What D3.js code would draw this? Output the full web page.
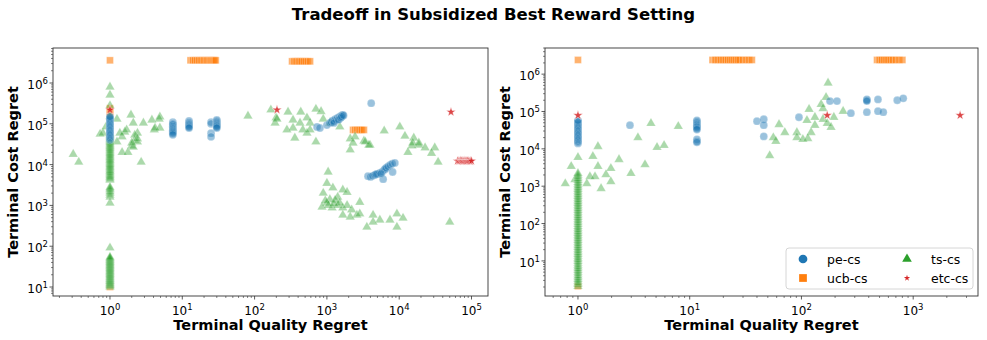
<!DOCTYPE html>
<html>
<head>
<meta charset="utf-8">
<script src="https://cdn.jsdelivr.net/npm/d3@7"></script>
<style>
body { margin: 0; background: #fff; }
text { font-family: "DejaVu Sans", sans-serif; fill: #000; }
</style>
</head>
<body>
<svg id="svg" width="987" height="340"></svg>
<script>
// ---- data ----
// left panel
const peLeftCol = [4.0e4,4.3e4,4.6e4,5.0e4,5.4e4,5.8e4,6.2e4,6.7e4,7.2e4,7.8e4,8.4e4,9e4,9.7e4,1.05e5,1.13e5,1.22e5,1.31e5,1.41e5,1.5e5];
const peLeft = [
  [7.4,1.1e5],[7.4,1.0e5],[7.4,9.5e4],[7.4,8.7e4],[7.4,8e4],[7.4,7.5e4],[7.4,7e4],[7.4,6.6e4],[7.4,6.2e4],[7.4,5.8e4],[7.4,5.4e4],
  [12.4,1.17e5],[12.4,1.08e5],[12.4,1.0e5],[12.4,9.4e4],[12.4,8.8e4],[12.4,8.3e4],[12.4,7.9e4],
  [25,1.1e5],[25,1.0e5],[25,5.9e4],[25,4.8e4],
  [30,1.24e5],[30,1.17e5],[30,1.1e5],[30,1.03e5],[30,9.7e4],[30,9.2e4],[30,8.8e4],[30,8.3e4],[30,7.9e4],
  [730,8.4e4],[800,7.9e4],[1000,9.3e4],[1100,1.05e5],[1150,1.1e5],[1200,1.2e5],[1250,1.15e5],[1300,1.3e5],[1350,1.25e5],
  [1400,1.4e5],[1450,1.3e5],[1500,1.5e5],[1550,1.45e5],[1600,1.6e5],[1660,1.65e5],[1250,1.05e5],[1450,1.25e5],[1550,1.4e5],
  [1600,1.5e5],[1700,1.6e5],
  [4100,3.2e5],
  [3700,5.2e3],[4000,5.0e3],[4300,5.3e3],[4600,5.6e3],[5000,5.9e3],[5400,6.3e3],[5800,6.6e3],[6200,7.4e3],[6400,7.8e3],
  [6600,8.3e3],[7000,9e3],[7500,9.8e3],[8000,1.05e4],[8700,1.1e4],[6000,4.4e3],[8100,6.6e3],[4800,5.8e3],[5600,6.0e3]
];
const ucbLeft = [
  [1,3.6e6],[1,2.4e5],[1,2.2e5],[1,2.0e5],[1,1.7e5],[1,10],
  [13,3.6e6],[14,3.6e6],[15,3.6e6],[16,3.6e6],[17,3.6e6],[18,3.6e6],[19,3.6e6],[20,3.6e6],[21,3.6e6],
  [22,3.6e6],[23,3.6e6],[24,3.6e6],[25,3.6e6],[26,3.6e6],[27,3.6e6],[28,3.6e6],[29,3.6e6],
  [330,3.4e6],[350,3.4e6],[370,3.4e6],[390,3.4e6],[410,3.4e6],[430,3.4e6],[450,3.4e6],[480,3.4e6],[510,3.4e6],[545,3.4e6],[585,3.4e6],
  [2300,7.1e4],[2450,7.1e4],[2600,7.1e4],[2750,7.1e4],[2900,7.1e4],[3050,7.1e4],[3250,7.1e4]
];
const tsLeftCol = [8.0e5,5.1e5,2.8e5,1.5e5,
  4200,4500,4800,5100,5500,5900,6300,6800,7200,7800,8300,8900,9500,10200,11000,11700,12500,13400,14400,15400,16500,
  17700,19000,20300,21800,23400,25000,26800,28700,30800,33000,35400,38000,40700,43600,46700,50000,53600,57400,
  1150,1600,1800,2000,2200,2400,2600,2800,91,
  10,10.5,11,11.5,12,12.6,13.2,13.8,14.5,15.2,16,16.8,17.6,18.5,19.4,20.4,21.4,22.5,23.6,24.8,26,27.3,28.7,30.1,
  31.6,33.2,34.8,36.6,38.4,40.3,42.3,44.4,46.6,49,51.4,54];
const tsLeft = [
  [0.31,1.8e4],[0.37,1.15e4],[0.73,5.6e4],[0.80,5.9e4],[0.88,8.4e4],[1.25,1.3e5],[1.95,1.65e5],[2.1,1.05e5],
  [2.9,1.05e5],[3.8,1.24e5],[4.9,1.48e5],[4.8,1.3e5],[4.1,7.1e4],[4.9,7.9e4],[2.4,5.9e4],[2.2,4.0e4],[2.0,2.9e4],
  [1.47,4.8e4],[1.6,6.3e4],[1.47,2.0e4],[1.77,2.0e4],[2.1,2.7e4],[2.4,3.6e4],[2.7,1.15e4],[1.37,5.9e4],[1.7,7.1e4],
  [2.2,5.3e4],[2.4,4.3e4],[2.0,3.4e4],[4.2,7.9e4],[1.25,3.6e4],
  [81,1.56e5],[168,2.2e5],[198,1.4e5],[192,1.05e5],[290,1.95e5],[340,1.24e5],[435,1.95e5],[425,1.05e5],[530,1.4e5],
  [585,1.05e5],[705,2.3e5],[830,2.0e5],[890,1.3e5],[465,7.1e4],[280,7.1e4],[360,4.5e4],[530,5.9e4],[705,3.6e4],
  [1100,1.05e5],[1510,8.4e4],[2100,4.3e4],[2450,4.8e4],[3250,3.8e4],[3950,3.0e4],[6200,6.7e4],[10200,8.4e4],
  [12000,5.0e4],[15900,4.5e4],[18700,3.0e4],[22800,2.6e4],[31000,2.6e4],[15000,2.9e4],[2100,2.3e4],[2300,3.4e4],
  [3400,3.6e4],[3800,3.0e4],[15400,3.4e4],[18700,3.4e4],[13200,2.0e4],[28000,1.9e4],[34500,1.15e4],[340,7.9e4],
  [585,7.1e4],[204,1.3e5],
  [1040,6.6e3],[1000,3.5e3],[1210,2.7e3],[1660,2.4e3],[890,2.0e3],[1100,1.4e3],[1410,1.6e3],[1000,1.15e3],[855,910],
  [1180,870],[1410,1.0e3],[1660,870],[1900,1.0e3],[2200,780],[2850,1.2e3],[2600,580],[2100,520],[1660,580],[2850,620],
  [4350,580],[5400,440],[4350,390],[3570,295],[7450,440],[9300,620],[11300,490],[9300,295],[50000,390],[1900,2.1e3],
  [1300,1.35e3],[1500,1.15e3],[950,1.3e3],[1050,1.0e3],[1250,1.1e3]
];
const etcLeft = [
  [1,2.2e5],[204,2.2e5],[52000,1.95e5],
  [64000,1.23e4],[67000,1.23e4],[70000,1.25e4],[73000,1.23e4],[76000,1.22e4],[79000,1.24e4],[82000,1.23e4],
  [85000,1.22e4],[88000,1.23e4],[92000,1.23e4],[96000,1.22e4],[100000,1.23e4]
];

// right panel
const peRightCol = [1.4e4,1.5e4,1.6e4,1.75e4,1.9e4,2.05e4,2.2e4,2.4e4,2.6e4,2.8e4,3.05e4,3.3e4,3.6e4,3.9e4,4.2e4,4.6e4,5.0e4,5.4e4,5.8e4];
const peRight = [
  [2.92,4.3e4],
  [11.6,5.8e4],[11.6,5.4e4],[11.6,5.0e4],[11.6,4.6e4],[11.6,4.3e4],[11.6,4.0e4],[11.6,3.8e4],[11.6,3.5e4],[11.6,3.3e4],
  [11.6,1.8e4],[11.6,1.6e4],[11.6,1.5e4],
  [40,5.5e4],[46,6.2e4],[46,4.3e4],[46,2.15e4],[95,7.0e4],
  [180,1.9e5],[208,1.9e5],[277,9.0e4],[385,2.1e5],[385,2.0e5],[385,1.9e5],[385,9.6e4],[484,2.1e5],[484,1.02e5],[540,9.6e4],
  [720,2.0e5],[815,2.25e5]
];
const ucbRight = [
  [1,2.4e6],[1,2.1],
  [16,2.4e6],[17,2.4e6],[18,2.4e6],[19,2.4e6],[20,2.4e6],[21,2.4e6],[22,2.4e6],[23,2.4e6],[24,2.4e6],[25,2.4e6],
  [26,2.4e6],[27,2.4e6],[28,2.4e6],[30,2.4e6],[32,2.4e6],[34,2.4e6],[36,2.4e6],
  [475,2.4e6],[500,2.4e6],[525,2.4e6],[550,2.4e6],[575,2.4e6],[600,2.4e6],[630,2.4e6],[660,2.4e6],[700,2.4e6],[750,2.4e6],[800,2.4e6]
];
const tsRightCol = [2.1,2.35,2.6,2.9,3.2,3.6,4.0,4.5,5.0,5.6,6.2,7.0,7.8,8.7,9.7,10.8,12,13.4,15,16.7,18.6,20.7,23,
  25.7,28.6,32,35.6,39.7,44,49,55,61,68,76,85,95,106,118,131,146,163,182,203,226,252,281,313,349,389,433,483,538,
  600,669,745,830,926,1030,1150,1280,1430,1590,1780,1980,2200];
const tsRight = [
  [173,5.8e5],[166,2.4e5],[150,1.55e5],[156,1.2e5],[117,1.15e5],[236,1.02e5],[195,7.0e4],[132,7.0e4],[112,5.8e4],
  [156,6.2e4],[170,4.8e4],[184,3.8e4],[132,4.3e4],[63,4.5e4],[71,2.75e4],[91,2.75e4],[122,2.75e4],[91,2.0e4],
  [103,1.8e4],[114,1.9e4],[56,2.0e4],[59,1.6e4],[4.5,4.8e4],[7.9,4.0e4],[3.44,2.0e4],[1.51,1.16e4],[5.1,1.1e4],
  [5.9,1.24e4],[1,5.9e3],[1.36,6.3e3],[0.87,3.4e3],[1.51,3.4e3],[1.97,3.0e3],[2.33,5.2e3],[3.98,3.8e3],[2.98,2.2e3],
  [1.78,2.05e3],[1.28,1.8e3],[1.42,1.8e3],[1.97,1.33e3],[1.2,1.17e3],[0.77,1.17e3],[1.61,870],[0.94,1.5e3],[52,6.6e3]
];
const etcRight = [[1,7.9e4],[170,7.9e4],[2630,7.9e4]];

// tick exponents
const leftXTicks = [0, 1, 2, 3, 4, 5];
const rightXTicks = [0, 1, 2, 3];
const yTicks = [1, 2, 3, 4, 5, 6];

const seriesNames = ['pe-cs', 'ucb-cs', 'ts-cs', 'etc-cs'];
const colors = { 'pe-cs': '#1f77b4', 'ucb-cs': '#ff7f0e', 'ts-cs': '#2ca02c', 'etc-cs': '#d62728' };

const svg = d3.select('#svg');

svg.append('text')
  .attr('x', 493.5).attr('y', 20)
  .attr('text-anchor', 'middle')
  .style('font-size', '16.5px').style('font-weight', 'bold')
  .text('Tradeoff in Subsidized Best Reward Setting');

const shapes = {
  'pe-cs': d3.symbol(d3.symbolCircle, 48),
  'ucb-cs': d3.symbol(d3.symbolSquare, 48),
  'ts-cs': d3.symbol(d3.symbolTriangle, 38),
  'etc-cs': d3.symbol(d3.symbolStar, 28)
};
const opac = { 'pe-cs': 0.45, 'ucb-cs': 0.6, 'ts-cs': 0.4, 'etc-cs': 0.85 };

function supLabel(sel, e) {
  sel.append('tspan').text('10');
  sel.append('tspan').attr('dy', -5).style('font-size', '8.5px').text(e);
}

function drawPanel(p) {
  const x = d3.scaleLog().domain(p.xDom).range([p.left, p.right]);
  const y = d3.scaleLog().domain(p.yDom).range([p.bottom, p.top]);
  const g = svg.append('g');

  // points
  const layers = [
    ['ucb-cs', p.ucb], ['ts-cs', p.ts], ['pe-cs', p.pe], ['etc-cs', p.etc]
  ];
  layers.forEach(([name, pts]) => {
    g.append('g').selectAll('path')
      .data(pts)
      .enter()
      .append('path')
      .attr('d', shapes[name])
      .attr('transform', d => `translate(${x(d[0])},${y(d[1])})`)
      .attr('fill', colors[name])
      .attr('fill-opacity', opac[name])
      .attr('stroke', '#fff')
      .attr('stroke-opacity', opac[name])
      .attr('stroke-width', 0.5);
  });

  // frame
  g.append('rect')
    .attr('x', p.left).attr('y', p.top)
    .attr('width', p.right - p.left).attr('height', p.bottom - p.top)
    .attr('fill', 'none').attr('stroke', '#333').attr('stroke-width', 0.9);

  // x ticks
  const xMinor = x.ticks().filter(v => !p.xTicks.some(e => Math.abs(v - 10 ** e) < 1e-9 * v));
  g.append('g').selectAll('line').data(xMinor).enter().append('line')
    .attr('x1', d => x(d)).attr('x2', d => x(d))
    .attr('y1', p.bottom).attr('y2', p.bottom + 2)
    .attr('stroke', '#333').attr('stroke-width', 0.6);
  g.append('g').selectAll('line').data(p.xTicks).enter().append('line')
    .attr('x1', d => x(10 ** d)).attr('x2', d => x(10 ** d))
    .attr('y1', p.bottom).attr('y2', p.bottom + 3.5)
    .attr('stroke', '#333').attr('stroke-width', 0.8);
  p.xTicks.forEach(e => {
    const t = g.append('text')
      .attr('x', x(10 ** e)).attr('y', p.bottom + 19)
      .attr('text-anchor', 'middle').style('font-size', '12px');
    supLabel(t, e);
  });

  // y ticks
  const yMinor = y.ticks().filter(v => !yTicks.some(e => Math.abs(v - 10 ** e) < 1e-9 * v));
  g.append('g').selectAll('line').data(yMinor).enter().append('line')
    .attr('y1', d => y(d)).attr('y2', d => y(d))
    .attr('x1', p.left).attr('x2', p.left - 2)
    .attr('stroke', '#333').attr('stroke-width', 0.6);
  g.append('g').selectAll('line').data(yTicks).enter().append('line')
    .attr('y1', d => y(10 ** d)).attr('y2', d => y(10 ** d))
    .attr('x1', p.left).attr('x2', p.left - 3.5)
    .attr('stroke', '#333').attr('stroke-width', 0.8);
  yTicks.forEach(e => {
    const t = g.append('text')
      .attr('x', p.left - 5).attr('y', y(10 ** e) + 6)
      .attr('text-anchor', 'end').style('font-size', '12px');
    supLabel(t, e);
  });

  // axis labels
  g.append('text')
    .attr('x', (p.left + p.right) / 2).attr('y', p.bottom + 34)
    .attr('text-anchor', 'middle')
    .style('font-size', '14.5px').style('font-weight', 'bold')
    .text('Terminal Quality Regret');
  g.append('text')
    .attr('transform', `translate(${p.ylabelX},${(p.top + p.bottom) / 2}) rotate(-90)`)
    .attr('text-anchor', 'middle')
    .style('font-size', '14.5px').style('font-weight', 'bold')
    .text('Terminal Cost Regret');
}

drawPanel({
  left: 53, top: 48, right: 488, bottom: 296,
  xDom: [10 ** -0.788, 10 ** 5.228], yDom: [10 ** 0.78, 10 ** 6.858],
  xTicks: leftXTicks, ylabelX: 18,
  pe: peLeft.concat(peLeftCol.map(v => [1, v])), ucb: ucbLeft,
  ts: tsLeft.concat(tsLeftCol.map(v => [1, v])), etc: etcLeft
});
drawPanel({
  left: 545, top: 48, right: 978, bottom: 296,
  xDom: [10 ** -0.295, 10 ** 3.58], yDom: [10 ** 0.06, 10 ** 6.7],
  xTicks: rightXTicks, ylabelX: 510,
  pe: peRight.concat(peRightCol.map(v => [1, v])), ucb: ucbRight,
  ts: tsRight.concat(tsRightCol.map(v => [1, v])), etc: etcRight
});

// legend
const lg = svg.append('g').attr('transform', 'translate(786,248)');
lg.append('rect')
  .attr('width', 187).attr('height', 41).attr('rx', 3)
  .attr('fill', '#fff').attr('fill-opacity', 0.8)
  .attr('stroke', '#ccc').attr('stroke-width', 0.8);
const legendShapes = {
  'pe-cs': d3.symbol(d3.symbolCircle, 60),
  'ucb-cs': d3.symbol(d3.symbolSquare, 60),
  'ts-cs': d3.symbol(d3.symbolTriangle, 40),
  'etc-cs': d3.symbol(d3.symbolStar, 12)
};
seriesNames.forEach((name, i) => {
  const col = i < 2 ? 0 : 1;
  const row = i % 2;
  const item = lg.append('g').attr('transform', `translate(${17 + col * 104},${11 + row * 19})`);
  item.append('path').attr('d', legendShapes[name]).attr('fill', colors[name]);
  item.append('text').attr('x', 24).attr('y', 4.5).style('font-size', '12.5px').text(name);
});
</script>
</body>
</html>
